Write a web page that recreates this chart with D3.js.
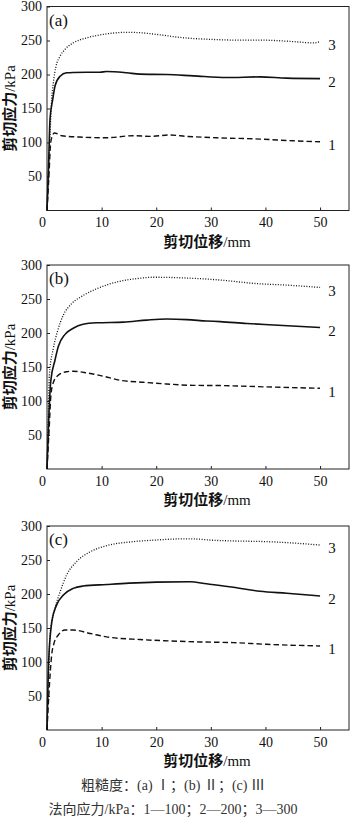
<!DOCTYPE html>
<html><head><meta charset="utf-8">
<script src="https://cdn.jsdelivr.net/npm/d3@7/dist/d3.min.js"></script>
<style>
html,body{margin:0;padding:0;background:#fff;}
svg{display:block;}
text{font-family:"Liberation Serif","Times New Roman","Noto Sans CJK SC",serif;fill:#111;}
</style></head>
<body><svg id="chart" width="350" height="819"></svg>
<script>
// ---- data ----
const panelLabels = ["(a)", "(b)", "(c)"];
const seriesNames = ["1", "2", "3"];
const xTicks = [0, 10, 20, 30, 40, 50];
const yTicks = [50, 100, 150, 200, 250, 300];
const xTitle = "剪切位移/mm";
const yTitle = "剪切应力/kPa";
const caption1 = "粗糙度：(a) Ⅰ；(b) Ⅱ；(c) Ⅲ";
const caption2 = "法向应力/kPa：1—100；2—200；3—300";

// panel (a)
const a1 = [[0,0],[0.35,50],[0.67,99.5],[1.0,110],[1.34,114],[2.7,110],[6,108],[10.9,107],[15.8,110],[18.9,109],[22.5,111],[25.6,109],[31,107],[39,105],[45,102.5],[50,101]];
const a2 = [[0,0],[0.3,70],[0.55,134],[1.04,163],[1.47,183],[2.4,197.5],[3.6,202.5],[4.8,203],[9.7,203.4],[10.9,204.4],[14.6,202.5],[17,200.5],[21.9,200],[26.8,198],[32.9,195.6],[39,196.5],[43.9,194.6],[50,194]];
const a3 = [[0,0],[0.3,60],[0.6,120],[0.85,163],[1.16,188],[1.65,212],[2.4,227],[3.3,237],[4.8,246.5],[7.3,254],[10.3,259],[14.6,262],[17,261.5],[20,259],[25,254],[30.5,251.5],[35.3,250.5],[39.6,250.5],[43.9,249],[49,246.5],[50,248.5]];
// panel (b)
const b1 = [[0,0],[0.4,60],[0.73,110],[1.2,128],[2.07,138],[3.6,143],[4.8,143.8],[7.3,141.4],[10.3,136.5],[13.4,130.5],[17.6,127.6],[21.9,125],[26.8,123],[31.7,122.7],[40.2,120.7],[50,118.7]];
const b2 = [[0,0],[0.3,70],[0.7,130],[1.46,160],[2.07,180],[3.3,198],[4.8,207],[6.6,212.8],[9.1,215],[14,216],[18.3,219],[21.9,220.5],[25.6,219.7],[29.2,217.7],[31.7,216.7],[36.6,214],[41.5,211.8],[50,208]];
const b3 = [[0,0],[0.2,60],[0.43,138],[1.16,177.5],[1.9,202],[3,226.5],[4.5,243],[6.6,255],[9.7,267],[13.3,276],[17,280.5],[19.4,282],[21.9,281.8],[25.6,280.8],[29.9,279],[32.9,277],[37.8,273],[43.9,270.4],[50,267]];
// panel (c)
const c1 = [[0,0],[0.4,60],[0.85,110],[1.3,128],[2.07,139.7],[3.3,147],[4.8,147],[7.9,142],[10.9,137],[17,133],[22.5,131],[28,129.5],[34.1,128.5],[40.2,126],[50,123.6]];
const c2 = [[0,0],[0.3,100],[0.9,160],[1.77,184],[3,198.5],[4.8,208.3],[6.6,211.7],[10.9,214],[15,216],[20,217.5],[26.2,218],[29.2,215],[34.1,210],[39,204],[43.9,201],[50,197]];
const c3 = [[0,0],[0.25,70],[0.55,139.7],[1.46,179],[2.4,203],[3.6,228],[5.4,247.5],[7.9,262],[10.9,271],[15.8,277],[20,279.4],[24.4,281],[26.8,281],[30.5,279],[34.1,278],[40.2,277],[45,275],[50,272]];

const panelData = [[a1, a2, a3], [b1, b2, b3], [c1, c2, c3]];

// ---- layout ----
const panelTops = [6.5, 265, 526];
const panelH = 204;
const xMax = 55.3, yMax = 300;
const left = 47, right = 349;
const styles = [
  {dash: "5.5,3", width: 1.4},
  {dash: null, width: 1.6},
  {dash: "1,1.6", width: 1.3}
];

const svg = d3.select("#chart");
const x = d3.scaleLinear().domain([0, xMax]).range([left, right]);

// split a title into CJK (bold) and Latin (regular) runs
function addTitle(sel, str) {
  const parts = str.match(/[\u3400-\u9fff]+|[^\u3400-\u9fff]+/g);
  parts.forEach(p => {
    sel.append("tspan")
      .attr("font-weight", /[\u3400-\u9fff]/.test(p) ? 700 : 400)
      .text(p);
  });
}

panelData.forEach((series, pi) => {
  const top = panelTops[pi], bottom = top + panelH;
  const y = d3.scaleLinear().domain([0, yMax]).range([bottom, top]);
  const g = svg.append("g");

  // frame
  g.append("rect")
    .attr("x", x(0)).attr("y", y(yMax))
    .attr("width", x(xMax) - x(0)).attr("height", y(0) - y(yMax))
    .attr("fill", "none").attr("stroke", "#222").attr("stroke-width", 1);

  // x axis (inward ticks)
  const xa = g.append("g").attr("transform", `translate(0,${y(0)})`)
    .call(d3.axisBottom(x).tickValues(xTicks).tickSizeInner(-3).tickSizeOuter(0).tickPadding(7));
  xa.select(".domain").remove();
  xa.selectAll("line").attr("stroke", "#222");
  xa.selectAll("text").attr("font-size", 14).attr("fill", "#111")
    .style("font-family", '"Liberation Serif","Times New Roman",serif')
    .attr("dx", d => d === 0 ? -5 : 0);

  // y axis
  const ya = g.append("g").attr("transform", `translate(${x(0)},0)`)
    .call(d3.axisLeft(y).tickValues(yTicks).tickSizeInner(-3).tickSizeOuter(0).tickPadding(5));
  ya.select(".domain").remove();
  ya.selectAll("line").attr("stroke", "#222");
  ya.selectAll("text").attr("font-size", 14).attr("fill", "#111")
    .style("font-family", '"Liberation Serif","Times New Roman",serif');

  // curves
  const line = d3.line().x(d => x(d[0])).y(d => y(d[1])).curve(d3.curveMonotoneX);
  series.forEach((s, si) => {
    g.append("path").datum(s)
      .attr("d", line)
      .attr("fill", "none").attr("stroke", "#111")
      .attr("stroke-width", styles[si].width)
      .attr("stroke-dasharray", styles[si].dash);
    const last = s[s.length - 1];
    g.append("text")
      .attr("x", x(last[0]) + 12).attr("y", y(last[1]) + 3)
      .attr("dy", "0.35em").attr("text-anchor", "middle")
      .attr("font-size", 15).text(seriesNames[si]);
  });

  // panel label
  g.append("text").attr("x", x(0) + 2).attr("y", top + 19)
    .attr("font-size", 17).text(panelLabels[pi]);

  // axis titles
  const xt = g.append("text").attr("x", 207).attr("y", bottom + 36)
    .attr("text-anchor", "middle").attr("font-size", 15);
  addTitle(xt, xTitle);
  const yt = g.append("text")
    .attr("transform", `translate(15,${(top + bottom) / 2}) rotate(-90)`)
    .attr("text-anchor", "middle").attr("font-size", 15);
  addTitle(yt, yTitle);
});

// captions
svg.append("text").attr("x", 173).attr("y", 790).attr("text-anchor", "middle")
  .attr("font-size", 14).style("fill", "#333").text(caption1);
svg.append("text").attr("x", 173).attr("y", 814).attr("text-anchor", "middle")
  .attr("font-size", 14).style("fill", "#333").text(caption2);
</script></body></html>
